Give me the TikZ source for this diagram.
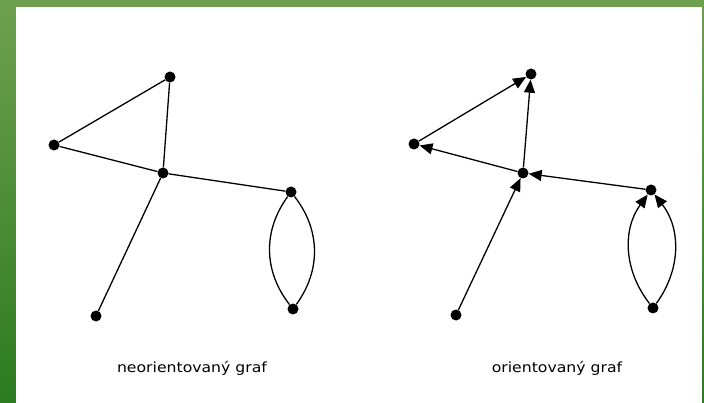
\documentclass[tikz,border=0pt]{standalone}
\usepackage{graphicx}
\usepackage{fontspec}
\setmainfont{DejaVu Sans}
\usetikzlibrary{
  arrows.meta
}
\definecolor{frametop}{HTML}{6FA04F}
\definecolor{framebot}{HTML}{2C7B21}
\newcommand{\widetext}[1]{\scalebox{1.12}[1]{#1}}
\tikzset{
  >={Triangle[length=13pt,width=11pt]},
  line cap=round,
  line join=round,
  vertex/.style={circle, fill, inner sep=0pt, minimum size=11pt},
  edge/.style={line width=1.3pt},
  arc/.style={->, line width=1.3pt},
  caption/.style={anchor=base, font=\fontsize{14}{16}\selectfont}
}

\begin{document}
\begin{tikzpicture}[x=1pt,y=-1pt]
  \useasboundingbox (0,0) rectangle (704,403);
  \shade[top color=frametop, bottom color=framebot] (0,0) rectangle (704,403);
  \fill[white] (16,7) rectangle (702,403);

  % neorientovany graf
  \node[vertex] (a1) at (170,77) {};
  \node[vertex] (b1) at (54,145) {};
  \node[vertex] (c1) at (163,173) {};
  \node[vertex] (d1) at (291,192) {};
  \node[vertex] (e1) at (96,316) {};
  \node[vertex] (f1) at (293,309) {};

  \draw[edge] (b1) -- (a1);
  \draw[edge] (c1) -- (a1);
  \draw[edge] (c1) -- (b1);
  \draw[edge] (d1) -- (c1);
  \draw[edge] (e1) -- (c1);
  \draw[edge] (f1) to[bend left=37] (d1);
  \draw[edge] (f1) to[bend right=37] (d1);

  % orientovany graf
  \node[vertex] (a2) at (531,74) {};
  \node[vertex] (b2) at (414,144) {};
  \node[vertex] (c2) at (523,173) {};
  \node[vertex] (d2) at (651,190) {};
  \node[vertex] (e2) at (456,315) {};
  \node[vertex] (f2) at (653,308) {};

  \draw[arc] (b2) -- (a2);
  \draw[arc] (c2) -- (a2);
  \draw[arc] (c2) -- (b2);
  \draw[arc] (d2) -- (c2);
  \draw[arc] (e2) -- (c2);
  \draw[arc] (f2) to[bend left=37] (d2);
  \draw[arc] (f2) to[bend right=37] (d2);

  \node[caption] (t1) at (192,372) {\widetext{neorientovaný graf}};
  \node[caption] (t2) at (557,372) {\widetext{orientovaný graf}};
\end{tikzpicture}
\end{document}
